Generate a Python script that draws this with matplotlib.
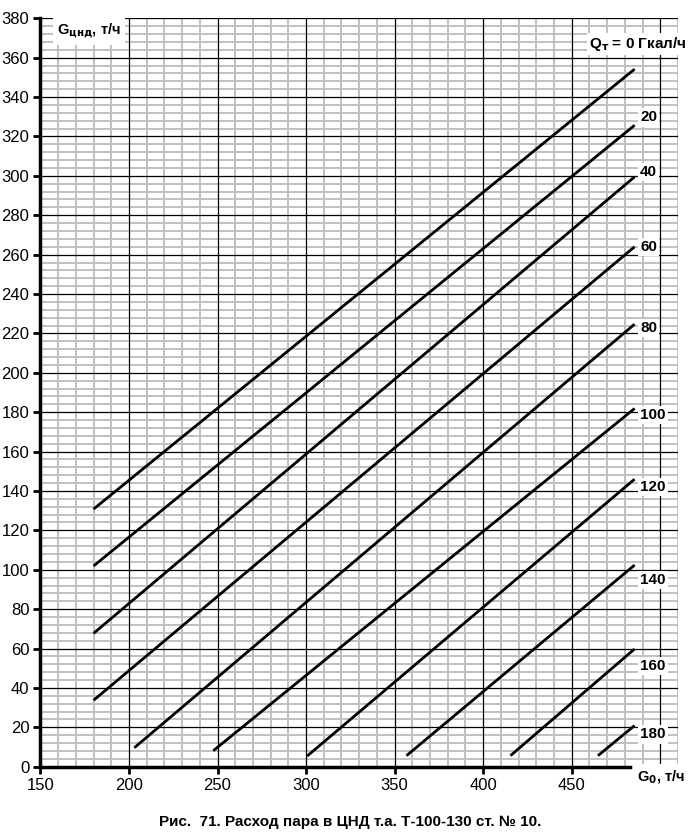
import matplotlib
matplotlib.use("Agg")
import matplotlib.pyplot as plt
from matplotlib.ticker import FixedLocator

plt.rcParams['font.family'] = ['Liberation Sans', 'DejaVu Sans']

# Data: heat load Q_т (Гкал/ч) curves, start/end points (G0, Gцнд)
q_values = [0, 20, 40, 60, 80, 100, 120, 140, 160, 180]
x_start = [180, 180, 180, 180, 203.0, 247.6, 300.6, 356.7, 415.4, 464.8]
y_start = [130.8, 101.9, 67.7, 33.7, 9.6, 8.1, 5.4, 5.6, 5.6, 5.6]
x_end = [485.5] * 10
y_end = [354.2, 325.7, 299.5, 264.0, 224.7, 181.9, 146.0, 102.4, 59.8, 20.9]

curve_labels = ["", "20", "40", "60", "80", "100", "120", "140", "160", "180"]
label_y = [None, 329.7, 302.0, 264.0, 222.7, 178.5, 142.0, 94.8, 51.1, 16.4]

x_ticks = [150, 200, 250, 300, 350, 400, 450, 500]
y_ticks = list(range(0, 381, 20))

fig = plt.figure(figsize=(7.0, 8.4), dpi=100)
ax = fig.add_axes([40.4 / 700, 73.3 / 840, (678 - 40.4) / 700, (766.7 - 18.3) / 840])
ax.set_xlim(150, 510)
ax.set_ylim(0, 380)

# minor grid (gray) below, major grid (black) above it
x_minor = [v for v in range(150, 511, 10) if v % 50 != 0]
y_minor = [v for v in range(0, 381, 4) if v % 20 != 0]
ax.xaxis.set_minor_locator(FixedLocator(x_minor))
ax.yaxis.set_minor_locator(FixedLocator(y_minor))
ax.set_xticks(x_ticks)
ax.set_yticks(y_ticks)
ax.grid(which='minor', color='#c0c0c0', linewidth=1.4)
ax.set_axisbelow(True)
for xv in x_ticks:
    ax.axvline(xv, color='black', linewidth=0.9, zorder=1)
for yv in y_ticks:
    ax.axhline(yv, color='black', linewidth=0.9, zorder=1)

ax.tick_params(axis='both', which='major', length=5, width=2, direction='out',
               labelsize=12, colors='black', pad=3)
ax.tick_params(axis='both', which='minor', length=0)

for s in ['top', 'right']:
    ax.spines[s].set_visible(False)
ax.spines['left'].set_linewidth(2.5)
ax.spines['bottom'].set_linewidth(2.5)
ax.spines['bottom'].set_bounds(150, 482.7)
ax.spines['left'].set_bounds(0, 380)

# curves
for xs, ys, xe, ye in zip(x_start, y_start, x_end, y_end):
    ax.plot([xs, xe], [ys, ye], color='black', linewidth=2.0, solid_capstyle='butt', zorder=3)

box = dict(facecolor='white', edgecolor='none', pad=1.5)
for lab, ly in zip(curve_labels, label_y):
    if lab:
        ax.text(488.6, ly, lab, fontsize=11, fontweight='bold', ha='left', va='center',
                bbox=box, zorder=4)

ax.text(460.0, 367, "Q$_{\\mathbf{т}}$ = 0 Гкал/ч", fontsize=11, fontweight='bold',
        ha='left', va='center', bbox=box, zorder=4, clip_on=False)

ax.text(159.5, 373.5, "G$_{\\mathbf{цнд}}$, т/ч", fontsize=10.5, fontweight='bold',
        ha='left', va='center', bbox=dict(facecolor='white', edgecolor='none', pad=3),
        zorder=4)

ax.text((637 - 40.4) / 637.6, -(777 - 766.7) / 748.4, "G$_{\\mathbf{0}}$, т/ч",
        transform=ax.transAxes, fontsize=10.5, fontweight='bold', ha='left', va='center',
        bbox=dict(facecolor='white', edgecolor='none', pad=3), zorder=5, clip_on=False)

fig.text(0.5, (840 - 822) / 840, "Рис.  71. Расход пара в ЦНД т.а. Т-100-130 ст. № 10.",
         fontsize=11, fontweight='bold', ha='center', va='center')

fig.savefig("out.png", dpi=100)
